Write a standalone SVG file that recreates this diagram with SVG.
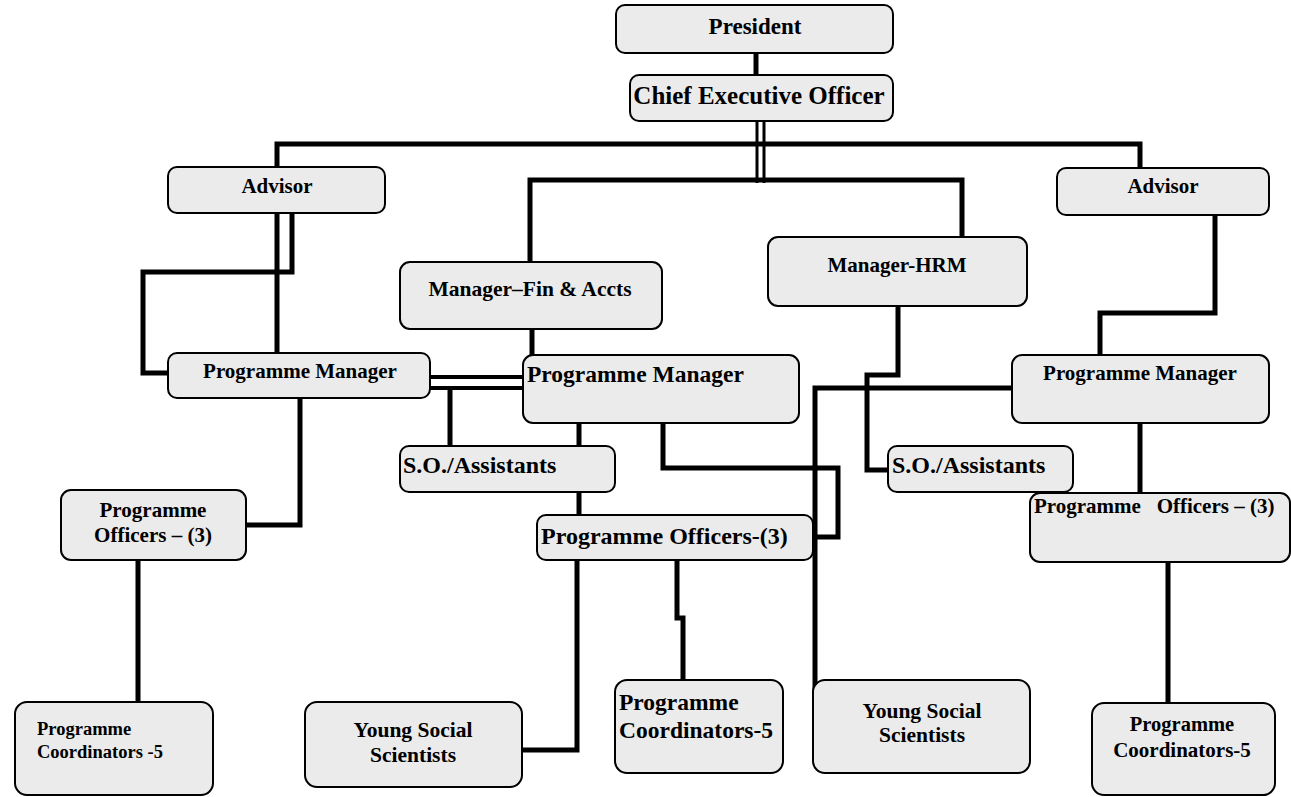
<svg xmlns="http://www.w3.org/2000/svg" width="1291" height="797" viewBox="0 0 1291 797">
<style>
.box{fill:#ebebeb;stroke:#000;stroke-width:2}
.t{font-family:"Liberation Serif","Times New Roman",serif;font-weight:bold;fill:#000}
.c{text-anchor:middle}
.ln{fill:none;stroke:#000;stroke-width:5;stroke-linejoin:miter}
.thin{fill:none;stroke:#000;stroke-width:3}
</style>
<rect width="1291" height="797" fill="#fff"/>
<g id="connectors">
<path class="ln" d="M756,53 V75"/>
<path class="thin" d="M757,121 V183 M764,121 V183"/>
<path class="ln" d="M277,167 V144 H1140 V168"/>
<path class="ln" d="M530,262 V180 H962 V237"/>
<path class="ln" d="M292,213 V272 H143 V373 H168"/>
<path class="ln" d="M277,213 V353"/>
<path class="ln" style="stroke-width:4" d="M430,377 H523 M430,388 H523"/>
<path class="ln" d="M450,388 V446"/>
<path class="ln" d="M532,329 V355"/>
<path class="ln" d="M579,423 V515"/>
<path class="ln" d="M663,423 V468 H838 V537 H813"/>
<path class="ln" d="M1012,388 H815 V748"/>
<path class="ln" d="M898,306 V375 H867 V470 H888"/>
<path class="ln" d="M1215,215 V313 H1100 V355"/>
<path class="ln" d="M1140,423 V493"/>
<path class="ln" d="M1168,562 V703"/>
<path class="ln" d="M300,398 V525 H246"/>
<path class="ln" d="M138,560 V702"/>
<path class="ln" d="M577,560 V750 H522"/>
<path class="ln" d="M677,560 V618 H683 V680"/>
</g>
<g id="president"><rect class="box" x="616" y="5" width="277" height="48" rx="9"/><text class="t c" x="755" y="34" font-size="23">President</text></g>
<g id="ceo"><rect class="box" x="630" y="75" width="263" height="46" rx="9"/><text class="t c" x="759" y="104" font-size="25">Chief Executive Officer</text></g>
<g id="advisor-left"><rect class="box" x="168" y="167" width="217" height="46" rx="9"/><text class="t c" x="277" y="193" font-size="21">Advisor</text></g>
<g id="advisor-right"><rect class="box" x="1057" y="168" width="212" height="47" rx="9"/><text class="t c" x="1163" y="193" font-size="21">Advisor</text></g>
<g id="manager-fin"><rect class="box" x="400" y="262" width="262" height="67" rx="10"/><text class="t c" x="530" y="296" font-size="21.5">Manager–Fin &amp; Accts</text></g>
<g id="manager-hrm"><rect class="box" x="768" y="237" width="259" height="69" rx="10"/><text class="t c" x="897" y="272" font-size="21">Manager-HRM</text></g>
<g id="pm-left"><rect class="box" x="168" y="353" width="262" height="45" rx="9"/><text class="t c" x="300" y="378" font-size="21">Programme Manager</text></g>
<g id="pm-mid"><rect class="box" x="523" y="355" width="276" height="68" rx="10"/><text class="t" x="527" y="382" font-size="23.5">Programme Manager</text></g>
<g id="pm-right"><rect class="box" x="1012" y="355" width="257" height="68" rx="10"/><text class="t c" x="1140" y="380" font-size="21">Programme Manager</text></g>
<g id="so-mid"><rect class="box" x="400" y="446" width="215" height="46" rx="9"/><text class="t" x="403" y="473" font-size="24">S.O./Assistants</text></g>
<g id="so-right"><rect class="box" x="888" y="446" width="185" height="46" rx="9"/><text class="t" x="892" y="473" font-size="24">S.O./Assistants</text></g>
<g id="po-left"><rect class="box" x="61" y="490" width="185" height="70" rx="10"/><text class="t c" x="153" y="517" font-size="21">Programme</text><text class="t c" x="153" y="542" font-size="21">Officers – (3)</text></g>
<g id="po-mid"><rect class="box" x="537" y="515" width="276" height="45" rx="9"/><text class="t" x="541" y="544" font-size="24">Programme Officers-(3)</text></g>
<g id="po-right"><rect class="box" x="1030" y="493" width="260" height="69" rx="10"/><text class="t" x="1034" y="513" font-size="21" style="white-space:pre" xml:space="preserve">Programme   Officers – (3)</text></g>
<g id="pc-left"><rect class="box" x="15" y="702" width="198" height="93" rx="12"/><text class="t" x="37" y="735" font-size="18.5">Programme</text><text class="t" x="37" y="758" font-size="18.5">Coordinators -5</text></g>
<g id="yss-left"><rect class="box" x="305" y="702" width="217" height="85" rx="12"/><text class="t c" x="413" y="737" font-size="21.5">Young Social</text><text class="t c" x="413" y="762" font-size="21.5">Scientists</text></g>
<g id="pc-mid"><rect class="box" x="615" y="680" width="168" height="93" rx="12"/><text class="t" x="619" y="710" font-size="23.5">Programme</text><text class="t" x="619" y="738" font-size="23.5">Coordinators-5</text></g>
<g id="yss-mid"><rect class="box" x="813" y="680" width="217" height="93" rx="12"/><text class="t c" x="922" y="718" font-size="21.5">Young Social</text><text class="t c" x="922" y="742" font-size="21.5">Scientists</text></g>
<g id="pc-right"><rect class="box" x="1092" y="703" width="183" height="92" rx="12"/><text class="t c" x="1182" y="731" font-size="20.5">Programme</text><text class="t c" x="1182" y="757" font-size="21">Coordinators-5</text></g>
</svg>
